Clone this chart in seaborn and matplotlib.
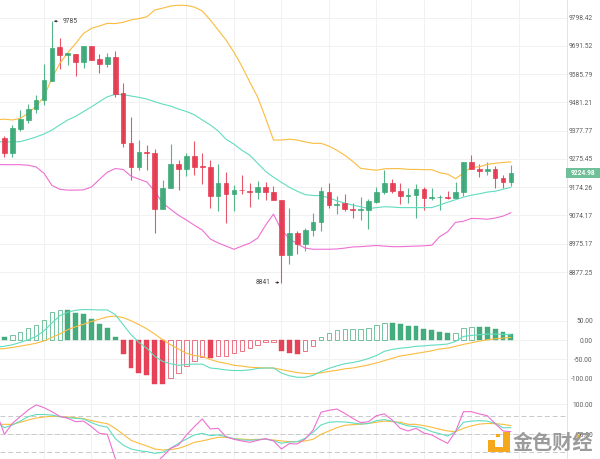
import matplotlib
matplotlib.use("Agg")
import matplotlib.pyplot as plt
from matplotlib.patches import Rectangle
from matplotlib.lines import Line2D
import numpy as np
import pandas as pd
import seaborn as sns

# candles, one per session
opens = [9351, 9296, 9384, 9418, 9458, 9491, 9562, 9686, 9657, 9661,
         9632, 9691, 9641, 9624, 9651, 9515, 9332, 9247, 9300, 9297,
         9096.5, 9172, 9257, 9238, 9286, 9249, 9246, 9143, 9188, 9149.5,
         9165, 9162.6, 9159, 9174, 9157.6, 9130.5, 8937, 9011, 8975, 9023,
         9052, 9159, 9111.5, 9117.6, 9095.5, 9093, 9094, 9122, 9156.6, 9191,
         9162.6, 9142, 9147, 9167, 9136, 9138, 9140, 9135, 9157.6, 9264,
         9241, 9233, 9239, 9207.5, 9193]
highs = [9358, 9399, 9453, 9475, 9509, 9624, 9785, 9723, 9664, 9661,
         9691, 9691, 9661, 9666, 9673, 9554, 9429, 9344, 9326, 9310,
         9199, 9329, 9271, 9296, 9341, 9298, 9271, 9257, 9229, 9181,
         9217, 9191, 9197, 9194.5, 9180, 9130.5, 9099, 9020.5, 9031, 9083.5,
         9175, 9191, 9142, 9149.5, 9118.7, 9140, 9134, 9175, 9236, 9205,
         9188, 9173, 9187.5, 9175, 9170.5, 9145, 9162.6, 9194.5, 9264, 9290,
         9258, 9263, 9250, 9217, 9255]
lows = [9283, 9281, 9378, 9405, 9444, 9471, 9562, 9607, 9620, 9579,
        9610, 9639, 9590, 9611, 9502, 9317, 9199, 9235, 9235, 9011,
        9096, 9172, 9163.5, 9215, 9217, 9187.5, 9100, 9089.5, 9046, 9090.6,
        9149, 9104.6, 9132.7, 9130.5, 9130.5, 8841, 8904, 8939.5, 8951, 9002,
        9020.5, 9100, 9079, 9088.5, 9065, 9058, 9027, 9118.7, 9149.5, 9155.5,
        9114, 9118.7, 9065, 9093, 9128, 9093, 9131, 9135, 9142, 9239,
        9211, 9217, 9170.5, 9170.5, 9180]
closes = [9296, 9387, 9419, 9458, 9491, 9564, 9685, 9657, 9664, 9632,
          9691, 9639, 9625, 9651, 9514, 9332, 9247, 9300, 9296, 9097.5,
          9172, 9257, 9238, 9286, 9247, 9246, 9142, 9188, 9149.5, 9166,
          9163, 9157.6, 9174, 9157.6, 9130.5, 8937, 9011, 8974, 9023, 9052,
          9160, 9111.5, 9116.5, 9095.5, 9093.5, 9095.5, 9124.7, 9157.6, 9191, 9162.6,
          9142, 9147, 9167, 9135, 9138, 9140, 9137.5, 9157.6, 9264, 9239,
          9233, 9239, 9207.5, 9193, 9225]

# bollinger bands, first value is one session before the first candle
bb_upper = [9418, 9420, 9417, 9423, 9441, 9468, 9502, 9571, 9626, 9666, 9701,
            9739, 9758, 9767, 9777, 9776, 9781, 9790, 9795, 9802, 9828,
            9835, 9843, 9846, 9845, 9839, 9824, 9790, 9752, 9714, 9668,
            9616, 9557, 9501, 9424, 9344, 9344, 9347, 9344, 9337, 9332,
            9332, 9322, 9307, 9289, 9267, 9242, 9238, 9235, 9240, 9241,
            9241, 9238, 9238, 9237, 9237, 9226, 9221, 9205, 9225, 9246,
            9247, 9256, 9260, 9263, 9265]
bb_middle = [9337, 9338, 9337, 9338, 9346, 9355, 9366, 9380, 9399, 9417, 9430,
             9448, 9465, 9484, 9502, 9511, 9510, 9505, 9500, 9494, 9484,
             9475, 9468, 9457, 9448, 9436, 9417, 9399, 9377, 9347, 9329,
             9307, 9289, 9260, 9231, 9210, 9192, 9174, 9160, 9148, 9145,
             9144, 9137, 9126, 9118, 9111, 9105, 9099, 9102, 9105, 9104,
             9102, 9102, 9102, 9102, 9102, 9111, 9121, 9130, 9139, 9146,
             9151, 9157, 9160, 9167, 9174]
bb_lower = [9256, 9255, 9255, 9255, 9253, 9247, 9224, 9181, 9167, 9164, 9164,
            9165, 9175, 9202, 9228, 9241, 9238, 9214, 9203, 9193, 9160,
            9118, 9096, 9075, 9058, 9040, 9023, 8992, 8978, 8967, 8956,
            8967, 8977, 8995, 9040, 9079, 9023, 8994, 8974, 8960, 8956,
            8956, 8956, 8957, 8960, 8964, 8965, 8967, 8969, 8967, 8965,
            8965, 8966, 8967, 8968, 8970, 9000, 9017, 9050, 9054, 9064,
            9063, 9061, 9065, 9072, 9084]

macd_hist = [7, 12, 22, 31, 39, 52, 72, 78, 78, 69,
             67, 55, 41, 32, 8, -35, -71, -84, -89, -114,
             -114, -97, -84, -66, -54, -43, -47, -41, -40, -33,
             -27, -20, -13, -6, -6, -29, -32, -35, -27, -16,
             9, 19, 26, 28, 28, 28, 31, 38, 44, 44,
             41, 37, 37, 29, 25, 22, 19, 19, 32, 35,
             35, 34, 28, 21, 17]
macd_hollow = [1, 2, 3, 4, 5, 6, 7, 21, 22, 23, 24, 25, 27, 28, 29, 30, 31, 32, 33, 34,
               38, 39, 40, 41, 42, 43, 44, 45, 46, 47, 48, 57, 58, 59]
macd_dif = [-18, -16, -12, -6, 1, 9.5, 24, 44, 63, 72, 77, 79, 78.5, 78, 78, 66, 40, 14, -6, -21, -42, -55, -61, -65, -63, -62,
            -62, -72, -74, -77, -78.5, -78.5, -77, -73, -72, -72, -85, -92, -96, -96, -91, -81, -73, -66.5, -61, -58, -53.5, -47.5, -40, -29, -24, -21,
            -19, -16, -15, -13, -12, -10, -3.5, 9.5, 12, 14, 15.5, 15.5, 14.7, 14]
macd_dea = [-23, -22, -19, -15.5, -12, -8, -2, 7, 16, 27, 34.5, 41, 48, 54, 60, 62, 58, 50, 40, 29, 15.5, 1, -12, -23, -34, -40,
            -42, -50, -56, -60, -65, -67, -70, -71, -72, -72, -76, -80, -84, -86, -87, -84.5, -81, -78, -74, -72, -68, -64, -59, -53, -47, -41,
            -38, -34.5, -31, -27.6, -23, -20.7, -16, -11, -7, -2.6, 1, 3.5, 5, 7]

kdj_k = [71, 61, 65.5, 72, 79.4, 83, 83, 82, 79.4, 77.7, 76.6, 75.5, 69.4, 64.4, 62, 43, 32, 25.5, 22.7, 21, 18.3, 20, 26.6, 35, 42, 49,
         51.6, 47.8, 49, 46, 42.7, 40.5, 40, 41, 42, 39.4, 35, 37, 37.7, 43.3, 53.3, 65.5, 70, 71, 70.5, 69, 67, 68, 72.7, 74.4, 72, 68,
         64, 62.8, 60, 54.4, 51, 47, 54.4, 70, 72, 72.7, 72, 68, 61, 61]
kdj_d = [66.6, 66.6, 66.6, 70, 73.8, 77, 78.9, 80, 79.4, 78.9, 77.7, 76, 72.7, 70, 67.7, 60, 50, 40, 35, 30.5, 25.5, 23.8, 24.4, 26.6, 31, 36.6,
         38.9, 42, 45, 45, 42.7, 42, 41, 41.6, 41.6, 40.5, 38.9, 37.7, 37.7, 38.9, 41.6, 50, 55.5, 61, 65, 66, 67, 68, 70, 72, 71, 70,
         66.6, 66.6, 64.4, 61.7, 58.3, 55.5, 54.4, 60, 64, 67, 68, 67.7, 66.6, 64.4]
kdj_j = [86, 50, 68, 79.4, 90.5, 99, 94.4, 87.7, 80, 76.6, 71, 72, 62.7, 51.6, 50, 10, -10, -15, -10, -5, 0, 13, 26.6, 32, 49, 62.7,
         75.5, 58.9, 60, 46, 41.6, 38.9, 36.6, 40, 42.7, 39, 25.5, 34.4, 33.9, 42, 57, 86.6, 90, 92, 85, 76.6, 69.4, 71, 81, 84, 73.8, 60,
         55.5, 60, 52, 49, 41.6, 35, 54.4, 87.7, 87.7, 84, 81, 68, 55.5, 54.4]

price_ticks = [9798.42, 9691.52, 9585.79, 9481.21, 9377.77, 9275.45, 9174.26, 9074.17, 8975.17, 8877.25]
macd_ticks = [50, 0, -50, -100]
kdj_ticks = [100, 50]
kdj_levels = [80, 50, 20]
grid_sessions = [5, 11, 17, 23, 29, 35, 41, 47, 53, 59, 65]
last_price = 9224.98

RED = "#e5384f"
GREEN = "#3aa876"
ORANGE = "#fbbc3f"
TEAL = "#62dcc0"
PINK = "#ee6fd2"
GRID = "#f1f1f1"
BORDER = "#e3e3e3"
LABEL = "#5c5c5c"
W, H = 600, 459
X_RANGE = (-0.556, 71.02)
PANEL_RIGHT = 566.5


def panel_axes(fig, top, bottom):
    ax = fig.add_axes([0, 1 - bottom / H, PANEL_RIGHT / W, (bottom - top) / H])
    ax.set_xlim(*X_RANGE)
    ax.set_xticks(grid_sessions)
    ax.tick_params(axis="x", length=0, labelbottom=False)
    ax.tick_params(axis="y", length=0, labelleft=False, labelright=True, right=False,
                   labelsize=4.8, labelcolor=LABEL, pad=19)
    ax.grid(True, color=GRID, linewidth=0.7)
    ax.set_axisbelow(True)
    for side in ["top", "left"]:
        ax.spines[side].set_visible(False)
    for side in ["right", "bottom"]:
        ax.spines[side].set_color(BORDER)
        ax.spines[side].set_linewidth(0.7)
    return ax


def right_align_ticks(ax):
    for lab in ax.get_yticklabels():
        lab.set_horizontalalignment("right")
        lab.set_fontfamily("Roboto")


def draw_lines(ax, idx, series):
    for values, color in series:
        df = pd.DataFrame({"idx": idx, "value": values})
        sns.lineplot(data=df, x="idx", y="value", color=color, linewidth=0.8,
                     errorbar=None, ax=ax, legend=False)
    ax.set_xlabel("")
    ax.set_ylabel("")


def px_rect(fig, x0, y0, x1, y1, color):
    fig.add_artist(Rectangle((x0 / W, 1 - y1 / H), (x1 - x0) / W, (y1 - y0) / H,
                             transform=fig.transFigure, facecolor=color, edgecolor="none"))


sns.set_theme(style="white")
plt.rcParams["font.family"] = ["Roboto", "Noto Sans CJK SC", "DejaVu Sans"]

fig = plt.figure(figsize=(W / 100, H / 100), dpi=100)
sessions = np.arange(len(opens))
line_idx = np.arange(-1, len(opens))

# price panel
ax_price = panel_axes(fig, 0, 297.5)
ax_price.set_yscale("log")
ax_price.set_ylim(8789.8, 9866)
ax_price.set_yticks(price_ticks, [f"{t:.2f}" for t in price_ticks])
ax_price.minorticks_off()
right_align_ticks(ax_price)

colors = [GREEN if c >= o else RED for o, c in zip(opens, closes)]
ax_price.vlines(sessions, lows, highs, colors=colors, linewidth=0.8, alpha=0.85, zorder=2)
ax_price.bar(sessions, np.abs(np.array(closes) - np.array(opens)),
             bottom=np.minimum(opens, closes), width=0.6, color=colors,
             edgecolor=colors, linewidth=0.5, alpha=0.95, zorder=3)
draw_lines(ax_price, line_idx, [(bb_upper, ORANGE), (bb_middle, TEAL), (bb_lower, PINK)])

hi = int(np.argmax(highs))
lo = int(np.argmin(lows))
arrow = dict(arrowstyle="-|>", lw=0.5, color="#333333", mutation_scale=3, shrinkA=1, shrinkB=0)
ax_price.annotate(f"{highs[hi]:.0f}", xy=(hi + 0.25, highs[hi]), xytext=(6.2, 0),
                  textcoords="offset points", fontsize=4.8, color="#444444",
                  va="center", ha="left", arrowprops=arrow)
ax_price.annotate(f"{lows[lo]:.0f}", xy=(lo - 0.25, lows[lo]), xytext=(-6.2, 0),
                  textcoords="offset points", fontsize=4.8, color="#444444",
                  va="center", ha="right", arrowprops=arrow)

# macd panel
ax_macd = panel_axes(fig, 297.5, 386.6)
ax_macd.set_ylim(-120, 110)
ax_macd.set_yticks(macd_ticks, [f"{t:.2f}" for t in macd_ticks])
right_align_ticks(ax_macd)
for i, v in zip(sessions, macd_hist):
    col = GREEN if v >= 0 else RED
    if i in macd_hollow:
        ax_macd.bar(i, v, width=0.56, facecolor="none", edgecolor=col, linewidth=0.7, alpha=0.7, zorder=2)
    else:
        ax_macd.bar(i, v, width=0.62, color=col, edgecolor=col, linewidth=0.3, alpha=0.95, zorder=2)
draw_lines(ax_macd, line_idx, [(macd_dea, ORANGE), (macd_dif, TEAL)])

# kdj panel
ax_kdj = panel_axes(fig, 386.6, H)
ax_kdj.set_ylim(8.8, 129.5)
ax_kdj.set_yticks(kdj_ticks, [f"{t:.2f}" for t in kdj_ticks])
right_align_ticks(ax_kdj)
ax_kdj.spines["bottom"].set_visible(False)
for level in kdj_levels:
    ax_kdj.axhline(level, color="#c9c9c9", linewidth=0.7, linestyle=(0, (5, 3)), zorder=1)
draw_lines(ax_kdj, line_idx, [(kdj_d, ORANGE), (kdj_k, TEAL), (kdj_j, PINK)])

# last price tag
px_rect(fig, 566, 167.7, 600, 178.3, "#6fbf98")
fig.text(583, 1, f"{last_price:.2f}", transform=None, alpha=0)
fig.text(583 / W, 1 - 173 / H, f"{last_price:.2f}", color="white", fontsize=4.8,
         ha="center", va="center", fontweight="bold")

# watermark
px_rect(fig, 488.3, 447, 510, 452, "#f5a81c")
px_rect(fig, 503.5, 431.7, 510, 452, "#f5a81c")
px_rect(fig, 488.3, 440, 495, 452, "#f5a81c")
px_rect(fig, 496, 433.5, 500, 437, "#f5a81c")
fig.text(553 / W, 1 - 442 / H, "金色财经", color="#9b9b9b", fontsize=14.5, fontweight="bold",
         ha="center", va="center", family=["Noto Sans CJK SC", "DejaVu Sans"])
fig.add_artist(Line2D([576 / W, 579.5 / W], [1 - 440 / H, 1 - 435 / H], color="#f5a81c", linewidth=1.4,
                      transform=fig.transFigure))

fig.savefig("out.png", dpi=100)
